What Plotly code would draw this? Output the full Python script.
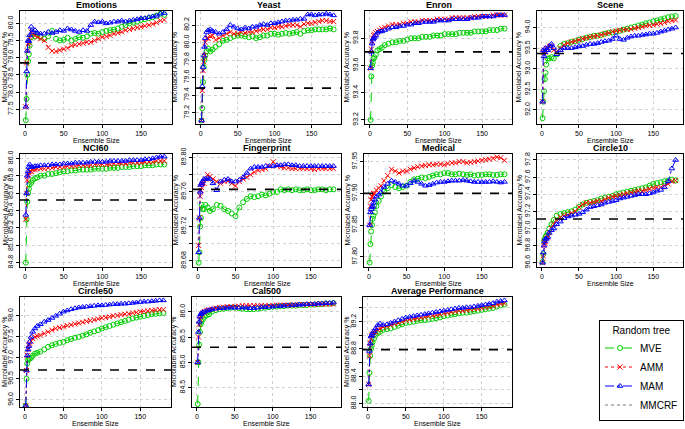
import plotly.graph_objects as go

# ---------------- data ----------------
ENSEMBLE_SIZE = [1, 2, 3, 4, 5, 6, 8, 10, 13, 16,
                 20, 25, 30, 35, 40, 45, 50, 55, 60, 65,
                 70, 75, 80, 85, 90, 95, 100, 105, 110, 115,
                 120, 125, 130, 135, 140, 145, 150, 155, 160, 165,
                 170, 175, 180]

DATASETS = ["Emotions", "Yeast", "Enron", "Scene", "NCI60", "Fingerprint",
            "Medical", "Circle10", "Circle50", "Cal500", "Average Performance"]

MMCRF = [78.85, 79.48, 93.70, 93.37, 85.52, 89.763, 97.90, 97.11, 96.71, 85.30, 88.79]

EMOTIONS_MVE = [77.18, 77.8, 78.5, 78.9, 79.1, 79.35, 79.6, 79.72, 79.62, 79.68,
                79.6, 79.55, 79.62, 79.78, 79.55, 79.5, 79.52, 79.58, 79.5, 79.55,
                79.6, 79.58, 79.62, 79.7, 79.72, 79.7, 79.75, 79.78, 79.8, 79.82,
                79.85, 79.9, 79.95, 80.0, 80.02, 80.05, 80.1, 80.12, 80.15, 80.18,
                80.22, 80.28, 80.25]
EMOTIONS_AMM = [77.57, 78.85, 79.2, 79.4, 79.45, 79.6, 79.75, 79.7, 79.65, 79.6,
                79.55, 79.5, 79.3, 79.2, 79.18, 79.22, 79.25, 79.28, 79.35, 79.38,
                79.4, 79.42, 79.45, 79.45, 79.5, 79.55, 79.6, 79.62, 79.65, 79.7,
                79.72, 79.75, 79.8, 79.82, 79.85, 79.88, 79.9, 79.93, 79.95, 79.98,
                80.02, 80.08, 80.1]
EMOTIONS_MAM = [77.57, 78.6, 79.2, 79.5, 79.48, 79.65, 79.9, 79.75, 79.8, 79.72,
                79.7, 79.7, 79.75, 79.72, 79.75, 79.8, 79.78, 79.85, 79.82, 79.78,
                79.75, 79.8, 79.78, 79.95, 80.05, 80.03, 80.05, 80.0, 80.02, 80.05,
                80.05, 80.08, 80.05, 80.08, 80.1, 80.12, 80.15, 80.15, 80.18, 80.2,
                80.22, 80.28, 80.3]

YEAST_MVE = [79.11, 79.25, 79.55, 79.72, 79.8, 79.85, 79.9, 79.93, 79.9, 79.92,
             79.95, 79.98, 80.02, 80.03, 80.05, 80.07, 80.08, 80.08, 80.07, 80.06,
             80.07, 80.05, 80.06, 80.08, 80.08, 80.1, 80.1, 80.09, 80.1, 80.11,
             80.1, 80.11, 80.12, 80.1, 80.13, 80.14, 80.14, 80.15, 80.15, 80.15,
             80.15, 80.16, 80.15]
YEAST_AMM = [79.11, 79.45, 79.68, 79.78, 79.85, 80.0, 80.05, 80.05, 80.07, 80.08,
             80.03, 80.05, 80.08, 80.1, 80.12, 80.1, 80.1, 80.12, 80.11, 80.12,
             80.12, 80.13, 80.14, 80.15, 80.15, 80.17, 80.17, 80.18, 80.18, 80.19,
             80.2, 80.2, 80.2, 80.18, 80.21, 80.22, 80.22, 80.23, 80.24, 80.25,
             80.25, 80.24, 80.24]
YEAST_MAM = [79.11, 79.5, 79.72, 79.85, 79.95, 80.05, 80.12, 80.14, 80.15, 80.13,
             80.12, 80.1, 80.12, 80.15, 80.2, 80.18, 80.16, 80.15, 80.17, 80.16,
             80.18, 80.18, 80.2, 80.21, 80.2, 80.22, 80.22, 80.23, 80.24, 80.25,
             80.25, 80.26, 80.26, 80.27, 80.27, 80.32, 80.32, 80.31, 80.32, 80.32,
             80.33, 80.32, 80.31]

ENRON_MVE = [93.2, 93.52, 93.6, 93.62, 93.65, 93.66, 93.68, 93.71, 93.72, 93.73,
             93.75, 93.76, 93.77, 93.77, 93.78, 93.78, 93.79, 93.8, 93.8, 93.8,
             93.81, 93.81, 93.81, 93.82, 93.82, 93.82, 93.83, 93.83, 93.83, 93.83,
             93.84, 93.84, 93.84, 93.84, 93.85, 93.85, 93.85, 93.85, 93.86, 93.86,
             93.86, 93.87, 93.87]
ENRON_AMM = [93.58, 93.72, 93.78, 93.8, 93.82, 93.83, 93.84, 93.85, 93.86, 93.87,
             93.88, 93.89, 93.9, 93.9, 93.9, 93.91, 93.91, 93.92, 93.92, 93.92,
             93.93, 93.93, 93.93, 93.93, 93.94, 93.94, 93.94, 93.94, 93.95, 93.95,
             93.95, 93.95, 93.95, 93.95, 93.96, 93.96, 93.96, 93.96, 93.96, 93.97,
             93.97, 93.97, 93.97]
ENRON_MAM = [93.58, 93.7, 93.76, 93.79, 93.8, 93.81, 93.82, 93.84, 93.85, 93.85,
             93.86, 93.87, 93.88, 93.88, 93.89, 93.89, 93.9, 93.9, 93.91, 93.91,
             93.92, 93.92, 93.92, 93.92, 93.93, 93.93, 93.93, 93.93, 93.94, 93.94,
             93.94, 93.94, 93.94, 93.95, 93.95, 93.95, 93.96, 93.96, 93.96, 93.96,
             93.97, 93.97, 93.97]

SCENE_MVE = [91.8, 92.2, 92.45, 92.75, 92.9, 93.1, 93.25, 93.25, 93.28, 93.25,
             93.35, 93.55, 93.6, 93.62, 93.65, 93.67, 93.7, 93.72, 93.75, 93.77,
             93.8, 93.8, 93.82, 93.85, 93.87, 93.88, 93.9, 93.92, 93.95, 93.97,
             94.0, 94.02, 94.05, 94.07, 94.1, 94.12, 94.15, 94.17, 94.2, 94.22,
             94.25, 94.27, 94.28]
SCENE_AMM = [92.2, 93.4, 93.45, 93.4, 93.42, 93.5, 93.5, 93.55, 93.55, 93.45,
             93.42, 93.5, 93.58, 93.62, 93.65, 93.67, 93.7, 93.73, 93.75, 93.77,
             93.78, 93.8, 93.82, 93.85, 93.87, 93.9, 93.92, 93.93, 93.95, 93.95,
             93.96, 93.98, 94.0, 94.02, 94.04, 94.05, 94.06, 94.08, 94.1, 94.12,
             94.15, 94.17, 94.18]
SCENE_MAM = [92.2, 93.45, 93.3, 93.4, 93.5, 93.45, 93.45, 93.55, 93.6, 93.5,
             93.35, 93.45, 93.5, 93.5, 93.5, 93.52, 93.55, 93.55, 93.58, 93.6,
             93.6, 93.62, 93.65, 93.67, 93.68, 93.72, 93.8, 93.72, 93.7, 93.75,
             93.78, 93.8, 93.8, 93.82, 93.83, 93.85, 93.85, 93.87, 93.9, 93.92,
             93.95, 93.97, 94.0]

NCI60_MVE = [84.8, 85.3, 85.5, 85.6, 85.65, 85.7, 85.72, 85.75, 85.77, 85.78,
             85.8, 85.8, 85.82, 85.82, 85.83, 85.84, 85.85, 85.85, 85.86, 85.86,
             85.87, 85.87, 85.87, 85.87, 85.88, 85.88, 85.88, 85.88, 85.89, 85.89,
             85.89, 85.9, 85.9, 85.9, 85.91, 85.91, 85.91, 85.92, 85.92, 85.92,
             85.93, 85.93, 85.93]
NCI60_AMM = [85.3, 85.6, 85.75, 85.8, 85.83, 85.85, 85.85, 85.87, 85.87, 85.88,
             85.88, 85.88, 85.89, 85.89, 85.9, 85.9, 85.9, 85.91, 85.91, 85.91,
             85.92, 85.92, 85.92, 85.92, 85.93, 85.93, 85.93, 85.93, 85.93, 85.94,
             85.94, 85.94, 85.94, 85.95, 85.95, 85.95, 85.95, 85.96, 85.96, 85.96,
             85.97, 85.97, 85.97]
NCI60_MAM = [85.35, 85.6, 85.8, 85.85, 85.9, 85.93, 85.9, 85.9, 85.91, 85.91,
             85.92, 85.92, 85.92, 85.93, 85.93, 85.93, 85.94, 85.94, 85.94, 85.95,
             85.95, 85.95, 85.95, 85.96, 85.96, 85.96, 85.96, 85.96, 85.97, 85.97,
             85.97, 85.97, 85.97, 85.98, 85.98, 85.98, 85.98, 85.99, 85.99, 86.0,
             86.01, 86.02, 86.02]

FINGERPRINT_MVE = [89.678, 89.69, 89.72, 89.73, 89.745, 89.74, 89.74, 89.745, 89.742, 89.738,
                   89.74, 89.745, 89.744, 89.74, 89.738, 89.735, 89.732, 89.742, 89.748, 89.752,
                   89.755, 89.754, 89.755, 89.757, 89.756, 89.758, 89.76, 89.76, 89.763, 89.762,
                   89.763, 89.762, 89.763, 89.762, 89.762, 89.763, 89.762, 89.762, 89.763, 89.763,
                   89.762, 89.763, 89.763]
FINGERPRINT_AMM = [89.698, 89.73, 89.755, 89.762, 89.765, 89.77, 89.77, 89.775, 89.78, 89.778,
                   89.775, 89.772, 89.77, 89.772, 89.773, 89.77, 89.767, 89.772, 89.775, 89.777,
                   89.78, 89.783, 89.785, 89.786, 89.787, 89.79, 89.795, 89.79, 89.789, 89.788,
                   89.788, 89.787, 89.787, 89.787, 89.787, 89.787, 89.787, 89.786, 89.787, 89.787,
                   89.787, 89.787, 89.787]
FINGERPRINT_MAM = [89.69, 89.73, 89.76, 89.768, 89.77, 89.772, 89.775, 89.775, 89.776, 89.775,
                   89.77, 89.762, 89.772, 89.774, 89.775, 89.772, 89.772, 89.774, 89.777, 89.782,
                   89.787, 89.789, 89.789, 89.789, 89.79, 89.79, 89.79, 89.791, 89.791, 89.792,
                   89.792, 89.791, 89.791, 89.79, 89.79, 89.79, 89.79, 89.79, 89.79, 89.79,
                   89.79, 89.79, 89.79]

MEDICAL_MVE = [97.791, 97.82, 97.84, 97.85, 97.86, 97.865, 97.87, 97.88, 97.888, 97.895,
               97.903, 97.908, 97.913, 97.91, 97.908, 97.91, 97.912, 97.918, 97.922, 97.923,
               97.925, 97.924, 97.926, 97.928, 97.93, 97.93, 97.932, 97.932, 97.93, 97.93,
               97.931, 97.93, 97.929, 97.93, 97.928, 97.929, 97.929, 97.93, 97.93, 97.929,
               97.929, 97.93, 97.93]
MEDICAL_AMM = [97.85, 97.88, 97.89, 97.895, 97.895, 97.9, 97.9, 97.905, 97.908, 97.912,
               97.92, 97.928, 97.938, 97.935, 97.932, 97.935, 97.935, 97.938, 97.94, 97.942,
               97.943, 97.944, 97.945, 97.945, 97.946, 97.946, 97.945, 97.947, 97.948, 97.948,
               97.95, 97.95, 97.948, 97.949, 97.95, 97.951, 97.952, 97.953, 97.954, 97.955,
               97.957, 97.956, 97.952]
MEDICAL_MAM = [97.85, 97.87, 97.875, 97.878, 97.88, 97.885, 97.89, 97.895, 97.898, 97.902,
               97.91, 97.915, 97.92, 97.918, 97.915, 97.912, 97.912, 97.916, 97.92, 97.918,
               97.915, 97.912, 97.913, 97.915, 97.917, 97.918, 97.918, 97.919, 97.92, 97.92,
               97.92, 97.921, 97.92, 97.919, 97.918, 97.918, 97.918, 97.918, 97.918, 97.919,
               97.918, 97.917, 97.918]

CIRCLE10_MVE = [96.61, 96.7, 96.85, 96.88, 96.9, 96.92, 96.95, 97.0, 97.05, 97.1,
                97.15, 97.17, 97.18, 97.19, 97.2, 97.22, 97.25, 97.28, 97.3, 97.31,
                97.32, 97.33, 97.35, 97.36, 97.37, 97.38, 97.4, 97.41, 97.42, 97.43,
                97.44, 97.45, 97.46, 97.47, 97.48, 97.5, 97.52, 97.53, 97.54, 97.55,
                97.56, 97.57, 97.56]
CIRCLE10_AMM = [96.6, 96.68, 96.8, 96.83, 96.85, 96.88, 96.9, 96.95, 97.0, 97.05,
                97.1, 97.13, 97.15, 97.16, 97.18, 97.2, 97.25, 97.28, 97.3, 97.3,
                97.31, 97.32, 97.32, 97.34, 97.36, 97.37, 97.38, 97.39, 97.4, 97.41,
                97.42, 97.43, 97.44, 97.44, 97.45, 97.46, 97.47, 97.48, 97.48, 97.5,
                97.52, 97.55, 97.56]
CIRCLE10_MAM = [96.6, 96.72, 96.8, 96.85, 96.88, 96.88, 96.9, 96.95, 96.98, 97.0,
                97.05, 97.08, 97.12, 97.14, 97.15, 97.16, 97.17, 97.19, 97.22, 97.25,
                97.26, 97.27, 97.28, 97.3, 97.31, 97.32, 97.33, 97.35, 97.36, 97.37,
                97.38, 97.39, 97.4, 97.4, 97.4, 97.41, 97.42, 97.44, 97.45, 97.48,
                97.55, 97.7, 97.8]

CIRCLE50_MVE = [95.86, 96.5, 96.87, 96.95, 97.0, 96.98, 97.0, 97.05, 97.1, 97.12,
                97.15, 97.2, 97.26, 97.3, 97.33, 97.36, 97.38, 97.42, 97.45, 97.48,
                97.5, 97.53, 97.56, 97.6, 97.63, 97.66, 97.7, 97.73, 97.76, 97.79,
                97.82, 97.85, 97.88, 97.91, 97.94, 97.96, 97.98, 98.0, 98.02, 98.04,
                98.05, 98.06, 98.07]
CIRCLE50_AMM = [95.86, 96.7, 97.06, 97.2, 97.3, 97.35, 97.4, 97.46, 97.5, 97.52,
                97.54, 97.58, 97.62, 97.66, 97.7, 97.72, 97.74, 97.77, 97.79, 97.81,
                97.83, 97.85, 97.87, 97.89, 97.91, 97.93, 97.95, 97.96, 97.98, 98.0,
                98.01, 98.03, 98.04, 98.05, 98.07, 98.08, 98.1, 98.11, 98.12, 98.13,
                98.14, 98.15, 98.15]
CIRCLE50_MAM = [95.86, 96.7, 97.06, 97.2, 97.28, 97.38, 97.5, 97.62, 97.7, 97.76,
                97.8, 97.86, 97.9, 97.95, 98.0, 98.05, 98.1, 98.13, 98.16, 98.18,
                98.2, 98.21, 98.22, 98.23, 98.24, 98.25, 98.25, 98.26, 98.27, 98.28,
                98.28, 98.29, 98.29, 98.3, 98.31, 98.32, 98.33, 98.34, 98.34, 98.35,
                98.36, 98.37, 98.37]

CAL500_MVE = [84.18, 85.0, 85.35, 85.6, 85.75, 85.8, 85.85, 85.9, 85.93, 85.95,
              86.0, 86.03, 86.05, 86.06, 86.07, 86.08, 86.08, 86.07, 86.06, 86.05,
              86.05, 86.05, 86.06, 86.07, 86.08, 86.09, 86.1, 86.1, 86.11, 86.11,
              86.12, 86.12, 86.12, 86.13, 86.13, 86.13, 86.14, 86.14, 86.15, 86.15,
              86.16, 86.16, 86.17]
CAL500_AMM = [85.0, 85.5, 85.75, 85.85, 85.9, 85.95, 85.98, 86.0, 86.03, 86.04,
              86.05, 86.07, 86.08, 86.09, 86.1, 86.1, 86.1, 86.11, 86.12, 86.12,
              86.12, 86.12, 86.12, 86.12, 86.12, 86.12, 86.12, 86.13, 86.13, 86.13,
              86.13, 86.13, 86.13, 86.14, 86.14, 86.14, 86.14, 86.14, 86.15, 86.15,
              86.15, 86.15, 86.15]
CAL500_MAM = [85.0, 85.6, 85.8, 85.9, 85.95, 85.97, 85.99, 86.0, 86.02, 86.03,
              86.05, 86.06, 86.07, 86.07, 86.08, 86.08, 86.08, 86.08, 86.08, 86.08,
              86.07, 86.07, 86.08, 86.09, 86.09, 86.1, 86.1, 86.11, 86.11, 86.12,
              86.12, 86.13, 86.13, 86.14, 86.14, 86.15, 86.15, 86.15, 86.16, 86.16,
              86.17, 86.17, 86.18]

AVERAGE_MVE = [88.04, 88.45, 88.7, 88.8, 88.85, 88.9, 88.95, 89.0, 89.03, 89.05,
               89.08, 89.09, 89.1, 89.12, 89.14, 89.16, 89.18, 89.19, 89.2, 89.21,
               89.22, 89.22, 89.23, 89.24, 89.25, 89.26, 89.28, 89.29, 89.3, 89.31,
               89.32, 89.33, 89.33, 89.34, 89.35, 89.36, 89.37, 89.38, 89.39, 89.4,
               89.42, 89.44, 89.45]
AVERAGE_AMM = [88.28, 88.7, 88.88, 88.95, 89.0, 89.02, 89.05, 89.05, 89.08, 89.1,
               89.12, 89.13, 89.15, 89.17, 89.18, 89.2, 89.22, 89.23, 89.24, 89.25,
               89.26, 89.27, 89.28, 89.29, 89.3, 89.31, 89.32, 89.33, 89.34, 89.35,
               89.36, 89.36, 89.37, 89.38, 89.39, 89.39, 89.4, 89.41, 89.42, 89.43,
               89.45, 89.46, 89.47]
AVERAGE_MAM = [88.28, 88.77, 88.88, 88.98, 89.0, 89.03, 89.06, 89.1, 89.15, 89.17,
               89.15, 89.16, 89.18, 89.2, 89.22, 89.24, 89.26, 89.27, 89.28, 89.29,
               89.3, 89.31, 89.32, 89.33, 89.34, 89.35, 89.36, 89.37, 89.38, 89.39,
               89.4, 89.4, 89.41, 89.41, 89.42, 89.43, 89.44, 89.45, 89.46, 89.47,
               89.49, 89.5, 89.51]

MVE = [EMOTIONS_MVE, YEAST_MVE, ENRON_MVE, SCENE_MVE, NCI60_MVE, FINGERPRINT_MVE,
       MEDICAL_MVE, CIRCLE10_MVE, CIRCLE50_MVE, CAL500_MVE, AVERAGE_MVE]
AMM = [EMOTIONS_AMM, YEAST_AMM, ENRON_AMM, SCENE_AMM, NCI60_AMM, FINGERPRINT_AMM,
       MEDICAL_AMM, CIRCLE10_AMM, CIRCLE50_AMM, CAL500_AMM, AVERAGE_AMM]
MAM = [EMOTIONS_MAM, YEAST_MAM, ENRON_MAM, SCENE_MAM, NCI60_MAM, FINGERPRINT_MAM,
       MEDICAL_MAM, CIRCLE10_MAM, CIRCLE50_MAM, CAL500_MAM, AVERAGE_MAM]

X_TICKS = [0, 50, 100, 150]
# labelled y ticks / all y tick (grid) positions
Y_TICKS = [
    [77.5, 78.0, 78.5, 79.0, 79.5, 80.0],
    [79.2, 79.4, 79.6, 79.8, 80.0, 80.2],
    [93.2, 93.4, 93.6, 93.8],
    [92.0, 92.5, 93.0, 93.5, 94.0],
    [84.8, 85.0, 85.2, 85.4, 85.6, 85.8, 86.0],
    [89.68, 89.72, 89.76, 89.80],
    [97.80, 97.85, 97.90, 97.95],
    [96.6, 96.8, 97.0, 97.2, 97.4, 97.6, 97.8],
    [96.0, 96.5, 97.0, 97.5, 98.0],
    [84.5, 85.0, 85.5, 86.0],
    [88.0, 88.4, 88.8, 89.2],
]
Y_GRID = [
    [77.5, 78.0, 78.5, 79.0, 79.5, 80.0],
    [79.2, 79.4, 79.6, 79.8, 80.0, 80.2],
    [93.2, 93.4, 93.6, 93.8],
    [92.0, 92.5, 93.0, 93.5, 94.0],
    [84.8, 85.0, 85.2, 85.4, 85.6, 85.8, 86.0],
    [89.68, 89.70, 89.72, 89.74, 89.76, 89.78, 89.80],
    [97.80, 97.85, 97.90, 97.95],
    [96.6, 96.8, 97.0, 97.2, 97.4, 97.6, 97.8],
    [96.0, 96.5, 97.0, 97.5, 98.0],
    [84.5, 85.0, 85.5, 86.0],
    [88.0, 88.2, 88.4, 88.6, 88.8, 89.0, 89.2, 89.4],
]
Y_DECIMALS = [1, 1, 1, 1, 1, 2, 2, 1, 1, 1, 1]

# ---------------- layout config ----------------
Y_RANGES = [[77.07, 80.36], [79.07, 80.36], [93.17, 94.0], [91.66, 94.4],
            [84.75, 86.05], [89.673, 89.804], [97.784, 97.962], [96.55, 97.87],
            [95.83, 98.45], [84.12, 86.29], [87.95, 89.56]]
X_RANGE = [-6.5, 190]

W, H = 685, 429
# panel boxes in pixels: x0, x1, y0(top), y1(bottom)
BOXES = [(20, 172, 11, 124), (196, 341, 11, 124), (365, 512, 11, 124), (537, 683, 11, 124),
         (20, 172, 154, 267), (193, 341, 154, 267), (364, 512, 154, 267), (537, 683, 154, 267),
         (20, 171, 297, 407), (192, 341, 297, 407), (363, 512, 297, 407)]
YTITLE_OFFSET = [15, 21, 18, 18, 15, 18, 17, 18, 15, 18, 16]

FONT = "Liberation Sans, Arial, Helvetica, sans-serif"
STYLES = {
    "MVE": dict(color="#00CD00", symbol="circle-open", dash="dash"),
    "AMM": dict(color="#FF0000", symbol="x-thin-open", dash="dot"),
    "MAM": dict(color="#0000FF", symbol="triangle-up-open", dash="dashdot"),
}
GRID = "#D0D0D0"

fig = go.Figure()
layout = dict(
    width=W, height=H,
    margin=dict(l=0, r=0, t=0, b=0, autoexpand=False),
    paper_bgcolor="white", plot_bgcolor="white",
    font=dict(family=FONT, size=7, color="black"),
    showlegend=True,
)
annotations = []
shapes = []

for i, name in enumerate(DATASETS):
    sfx = "" if i == 0 else str(i + 1)
    x0, x1, y0, y1 = BOXES[i]
    for key, series in (("MVE", MVE), ("AMM", AMM), ("MAM", MAM)):
        st = STYLES[key]
        fig.add_trace(go.Scatter(
            x=ENSEMBLE_SIZE, y=series[i], mode="lines+markers",
            name=key, legendgroup=key, showlegend=(i == 0),
            line=dict(color=st["color"], width=1, dash=st["dash"]),
            marker=dict(symbol=st["symbol"], size=5, color=st["color"],
                        line=dict(color=st["color"], width=1)),
            xaxis="x" + sfx, yaxis="y" + sfx, cliponaxis=True,
        ))
    shapes.append(dict(type="line", xref=f"x{sfx} domain", yref="y" + sfx,
                       x0=0, x1=1, y0=MMCRF[i], y1=MMCRF[i],
                       line=dict(color="black", width=1.6, dash="dash"), layer="above"))
    dec = Y_DECIMALS[i]
    layout["xaxis" + sfx] = dict(
        domain=[x0 / W, x1 / W], anchor="y" + sfx, range=X_RANGE,
        tickvals=X_TICKS, ticktext=[str(v) for v in X_TICKS],
        showline=True, mirror=True, linecolor="black", linewidth=1,
        ticks="outside", ticklen=3, tickcolor="black", tickfont=dict(size=7),
        showgrid=True, gridcolor=GRID, griddash="dot", gridwidth=1,
        zeroline=False, fixedrange=True, automargin=False,
    )
    layout["yaxis" + sfx] = dict(
        domain=[1 - y1 / H, 1 - y0 / H], anchor="x" + sfx, range=Y_RANGES[i],
        tickvals=Y_TICKS[i], ticktext=[f"{v:.{dec}f}" for v in Y_TICKS[i]],
        tickangle=-90,
        showline=True, mirror=True, linecolor="black", linewidth=1,
        ticks="outside", ticklen=3, tickcolor="black", tickfont=dict(size=7),
        showgrid=True, gridcolor=GRID, griddash="dot", gridwidth=1,
        minor=dict(tickvals=Y_GRID[i], showgrid=True, gridcolor=GRID,
                   griddash="dot", ticks="outside", ticklen=3, tickcolor="black"),
        zeroline=False, fixedrange=True, automargin=False,
    )
    # panel title
    annotations.append(dict(text=f"<b>{name}</b>", x=(x0 + x1) / 2 / W, y=1 - (y0 - 6) / H,
                            xref="paper", yref="paper", showarrow=False,
                            xanchor="center", yanchor="middle",
                            font=dict(size=9, family=FONT, color="black")))
    # axis titles
    annotations.append(dict(text="Ensemble Size", x=(x0 + x1) / 2 / W, y=1 - (y1 + 16) / H,
                            xref="paper", yref="paper", showarrow=False,
                            xanchor="center", yanchor="middle",
                            font=dict(size=7, family=FONT, color="black")))
    annotations.append(dict(text="Microlabel Accuracy %", x=(x0 - YTITLE_OFFSET[i]) / W,
                            y=1 - (y0 + y1) / 2 / H, xref="paper", yref="paper",
                            showarrow=False, textangle=-90,
                            xanchor="center", yanchor="middle",
                            font=dict(size=7, family=FONT, color="black")))

# legend entry for the MMCRF reference line
fig.add_trace(go.Scatter(x=[None], y=[None], mode="lines", name="MMCRF",
                         line=dict(color="#777777", width=1, dash="dot"),
                         xaxis="x", yaxis="y"))

layout["annotations"] = annotations
layout["shapes"] = shapes
layout["legend"] = dict(
    x=684 / W, y=1 - 370 / H, xanchor="right", yanchor="middle",
    bordercolor="black", borderwidth=1, bgcolor="white",
    title=dict(text="Random tree", side="top center", font=dict(size=10, family=FONT)),
    font=dict(size=10, family=FONT), itemwidth=30, tracegroupgap=0,
)
fig.update_layout(**layout)
fig.write_html("out.html",
               config={"displayModeBar": False, "staticPlot": False},
               post_script="document.body.style.margin='0';document.body.style.overflow='hidden';")
